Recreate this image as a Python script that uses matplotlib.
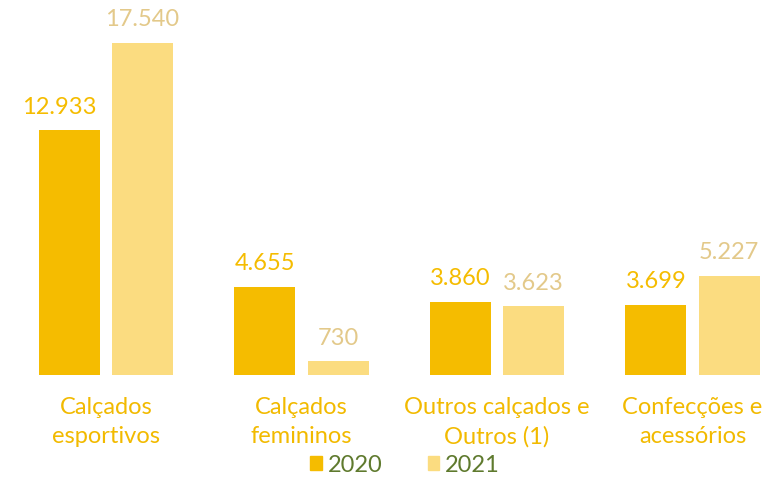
import numpy as np
import matplotlib.pyplot as plt
from matplotlib.patches import Patch

plt.rcParams['font.family'] = ['Lato', 'DejaVu Sans']

categories = ['Calçados\nesportivos', 'Calçados\nfemininos',
              'Outros calçados e\nOutros (1)', 'Confecções e\nacessórios']
v2020 = [12933, 4655, 3860, 3699]
v2021 = [17540, 730, 3623, 5227]
lab2020 = ['12.933', '4.655', '3.860', '3.699']
lab2021 = ['17.540', '730', '3.623', '5.227']
series = ['2020', '2021']

c2020 = '#F5BC00'
c2021 = '#FBDC80'
c2021_txt = '#E3C98A'
c_cat = '#F2BA00'
c_leg = '#5F7A2E'

fig = plt.figure(figsize=(7.76, 4.79), dpi=100)
ax = fig.add_axes([0, 0, 1, 1])

x = np.arange(len(categories))
w = 0.312
off = 0.187
b1 = ax.bar(x - off, v2020, w, color=c2020)
b2 = ax.bar(x + off, v2021, w, color=c2021)

for i, (xi, v, t) in enumerate(zip(x, v2020, lab2020)):
    dx = -7 if i == 0 else 0   # first label sits a bit left in the original
    ax.annotate(t, (xi - off, v), xytext=(dx, 12), textcoords='offset points',
                ha='center', va='baseline', fontsize=17, color=c2020)
for xi, v, t in zip(x, v2021, lab2021):
    ax.annotate(t, (xi + off, v), xytext=(0, 12), textcoords='offset points',
                ha='center', va='baseline', fontsize=17, color=c2021_txt)

for xi, c in zip(x, categories):
    ax.annotate(c, (xi, 0), xytext=(0, -16), textcoords='offset points',
                ha='center', va='top', fontsize=17, color=c_cat, linespacing=1.45)

ax.set_xlim(-0.542, 3.427)
ax.set_ylim(-5494, 19810)
ax.axis('off')

handles = [Patch(color=c2020), Patch(color=c2021)]
fig.legend(handles, series, loc='center', bbox_to_anchor=(0.522, 0.029), ncol=2,
           frameon=False, labelcolor=c_leg, fontsize=17, handlelength=0.5,
           handleheight=0.5, handletextpad=0.25, columnspacing=1.9,
           borderpad=0, borderaxespad=0)

fig.savefig('out.png', dpi=100)
